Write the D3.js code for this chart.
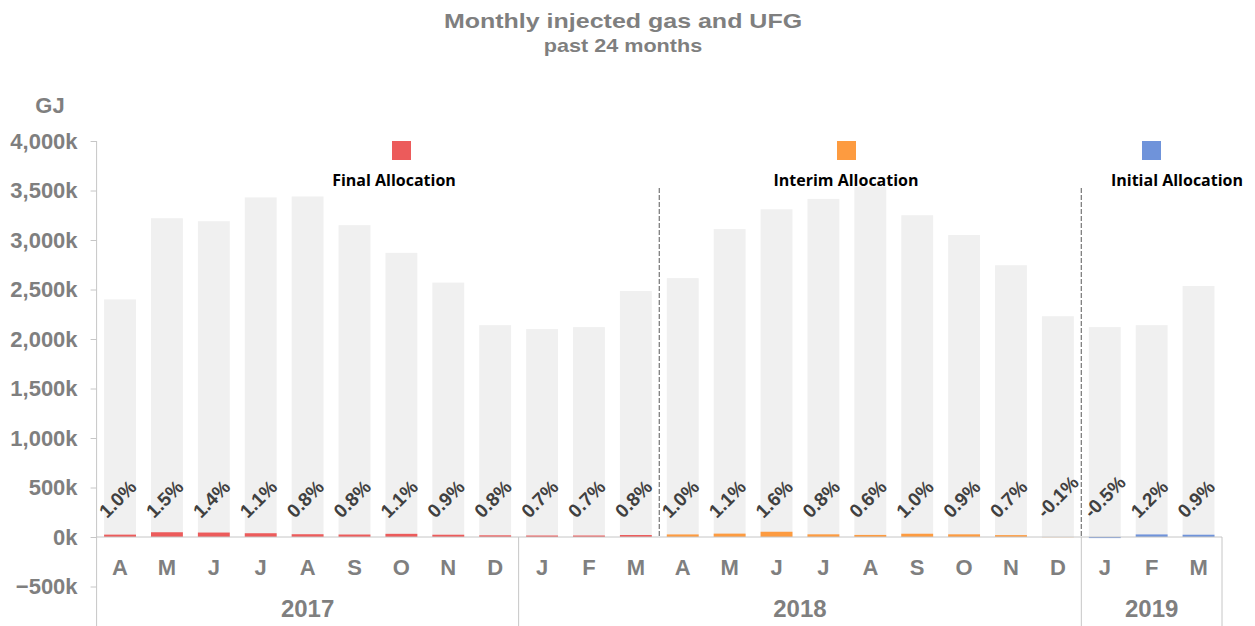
<!DOCTYPE html>
<html>
<head>
<meta charset="utf-8">
<script src="https://cdn.jsdelivr.net/npm/d3@7"></script>
<style>
  body { margin: 0; background: #fff; }
  svg text { font-family: "Liberation Sans", Arial, sans-serif; }
</style>
</head>
<body>
<svg width="1255" height="626"></svg>
<script>
// chart data
const months = ["A","M","J","J","A","S","O","N","D","J","F","M","A","M","J","J","A","S","O","N","D","J","F","M"];
const injected = [2400,3220,3190,3430,3440,3150,2870,2570,2140,2100,2120,2485,2615,3110,3310,3415,3540,3250,3050,2745,2230,2120,2140,2535]; // k GJ
const ufg = [24,48,45,38,28,25,32,23,17,15,15,20,26,34,53,27,21,33,27,19,-2,-11,26,23]; // k GJ
const ufgPct = ["1.0%","1.5%","1.4%","1.1%","0.8%","0.8%","1.1%","0.9%","0.8%","0.7%","0.7%","0.8%","1.0%","1.1%","1.6%","0.8%","0.6%","1.0%","0.9%","0.7%","-0.1%","-0.5%","1.2%","0.9%"];
const allocation = ["Final","Final","Final","Final","Final","Final","Final","Final","Final","Final","Final","Final",
  "Interim","Interim","Interim","Interim","Interim","Interim","Interim","Interim","Interim","Initial","Initial","Initial"];
const years = [{label: "2017", from: 0, to: 8}, {label: "2018", from: 9, to: 20}, {label: "2019", from: 21, to: 23}];
const yTicks = [-500,0,500,1000,1500,2000,2500,3000,3500,4000];
const legendItems = [
  {name: "Final", label: "Final Allocation", color: "#ec5b5b"},
  {name: "Interim", label: "Interim Allocation", color: "#fd9b40"},
  {name: "Initial", label: "Initial Allocation", color: "#6f93da"}
];

const grey = "#7f7f7f";
const lineGrey = "#c6c6c6";
const svg = d3.select("svg");

const left = 96.6, right = 1222, bottom = 626;
const colorOf = d3.scaleOrdinal().domain(legendItems.map(d => d.name)).range(legendItems.map(d => d.color));

const x = d3.scaleBand()
  .domain(d3.range(months.length))
  .range([left, right])
  .paddingInner(0.32)
  .paddingOuter(0.16);

const y = d3.scaleLinear()
  .domain([-500, 4000])
  .range([586.5, 141]);

// titles (the original is slightly stretched sideways)
svg.append("text")
  .attr("transform", "translate(623,28) scale(1.19,1)")
  .attr("text-anchor", "middle")
  .style("font-size", "21px").style("font-weight", "bold")
  .attr("fill", grey)
  .text("Monthly injected gas and UFG");

svg.append("text")
  .attr("transform", "translate(623,52) scale(1.2,1)")
  .attr("text-anchor", "middle")
  .style("font-size", "18px").style("font-weight", "bold")
  .attr("fill", grey)
  .text("past 24 months");

svg.append("text")
  .attr("x", 50).attr("y", 113)
  .attr("text-anchor", "middle")
  .style("font-size", "22px").style("font-weight", "bold")
  .attr("fill", grey)
  .text("GJ");

// y axis
const yAxis = svg.append("g")
  .attr("transform", `translate(${left},0)`)
  .call(d3.axisLeft(y).tickValues(yTicks).tickSize(6).tickSizeOuter(0).tickPadding(13)
    .tickFormat(d => d3.format(",")(d) + "k"));
yAxis.select(".domain").remove();
yAxis.selectAll(".tick line").attr("stroke", lineGrey);
yAxis.selectAll(".tick text")
  .attr("fill", grey)
  .style("font-size", "22px").style("font-weight", "bold")
  .style("font-family", "'Liberation Sans', Arial, sans-serif");

svg.append("line")
  .attr("x1", left).attr("x2", left)
  .attr("y1", y(4000)).attr("y2", bottom)
  .attr("stroke", lineGrey);

// injected gas bars
svg.append("g").selectAll("rect")
  .data(injected)
  .join("rect")
  .attr("x", (d, i) => x(i))
  .attr("width", x.bandwidth())
  .attr("y", d => y(d))
  .attr("height", d => y(0) - y(d))
  .attr("fill", "#f0f0f0");

// UFG bars
svg.append("g").selectAll("rect")
  .data(ufg)
  .join("rect")
  .attr("x", (d, i) => x(i))
  .attr("width", x.bandwidth())
  .attr("y", d => y(Math.max(0, d)))
  .attr("height", d => Math.abs(y(0) - y(d)))
  .attr("fill", (d, i) => colorOf(allocation[i]));

// zero line
svg.append("line")
  .attr("x1", left).attr("x2", right)
  .attr("y1", y(0)).attr("y2", y(0))
  .attr("stroke", lineGrey);

// percent labels
svg.append("g").selectAll("text")
  .data(ufgPct)
  .join("text")
  .attr("transform", (d, i) => `translate(${x(i) + 3},${y(0) - 18}) rotate(-45)`)
  .style("font-size", "19px").style("font-weight", "bold")
  .attr("fill", "#404040")
  .text(d => d);

// month labels
const xAxis = svg.append("g")
  .attr("transform", `translate(0,${y(0)})`)
  .call(d3.axisBottom(x).tickSize(0).tickPadding(22).tickFormat(i => months[i]));
xAxis.select(".domain").remove();
xAxis.selectAll(".tick text")
  .attr("fill", grey)
  .style("font-size", "22px").style("font-weight", "bold")
  .style("font-family", "'Liberation Sans', Arial, sans-serif");

// year groups
const step = x.step();
const groupStart = i => left + i * step;
svg.append("g").selectAll("line")
  .data(years.slice(1).map(d => d.from).concat([months.length]))
  .join("line")
  .attr("x1", d => groupStart(d)).attr("x2", d => groupStart(d))
  .attr("y1", y(0)).attr("y2", bottom)
  .attr("stroke", lineGrey);

svg.append("g").selectAll("text")
  .data(years)
  .join("text")
  .attr("x", d => (groupStart(d.from) + groupStart(d.to + 1)) / 2)
  .attr("y", 617)
  .attr("text-anchor", "middle")
  .style("font-size", "24px").style("font-weight", "bold")
  .attr("fill", grey)
  .text(d => d.label);

// allocation dividers
const dividers = [];
for (let i = 1; i < allocation.length; i++) {
  if (allocation[i] !== allocation[i - 1]) dividers.push(i);
}
svg.append("g").selectAll("line")
  .data(dividers)
  .join("line")
  .attr("x1", d => groupStart(d)).attr("x2", d => groupStart(d))
  .attr("y1", 188).attr("y2", y(0))
  .attr("stroke", "#7f7f7f")
  .attr("stroke-width", 1.3)
  .attr("stroke-dasharray", "5,2");

// legend
const legendPos = [{sq: 401.5, tx: 394}, {sq: 846.5, tx: 846}, {sq: 1151.5, tx: 1177}];
const legend = svg.append("g").selectAll("g")
  .data(legendItems)
  .join("g");
legend.append("rect")
  .attr("x", (d, i) => legendPos[i].sq - 9.5)
  .attr("y", 141)
  .attr("width", 19).attr("height", 19)
  .attr("fill", d => d.color);
legend.append("text")
  .attr("x", (d, i) => legendPos[i].tx)
  .attr("y", 186)
  .attr("text-anchor", "middle")
  .style("font-family", "'Open Sans', sans-serif")
  .style("font-size", "16px").style("font-weight", "bold")
  .attr("fill", "#000")
  .text(d => d.label);
</script>
</body>
</html>
